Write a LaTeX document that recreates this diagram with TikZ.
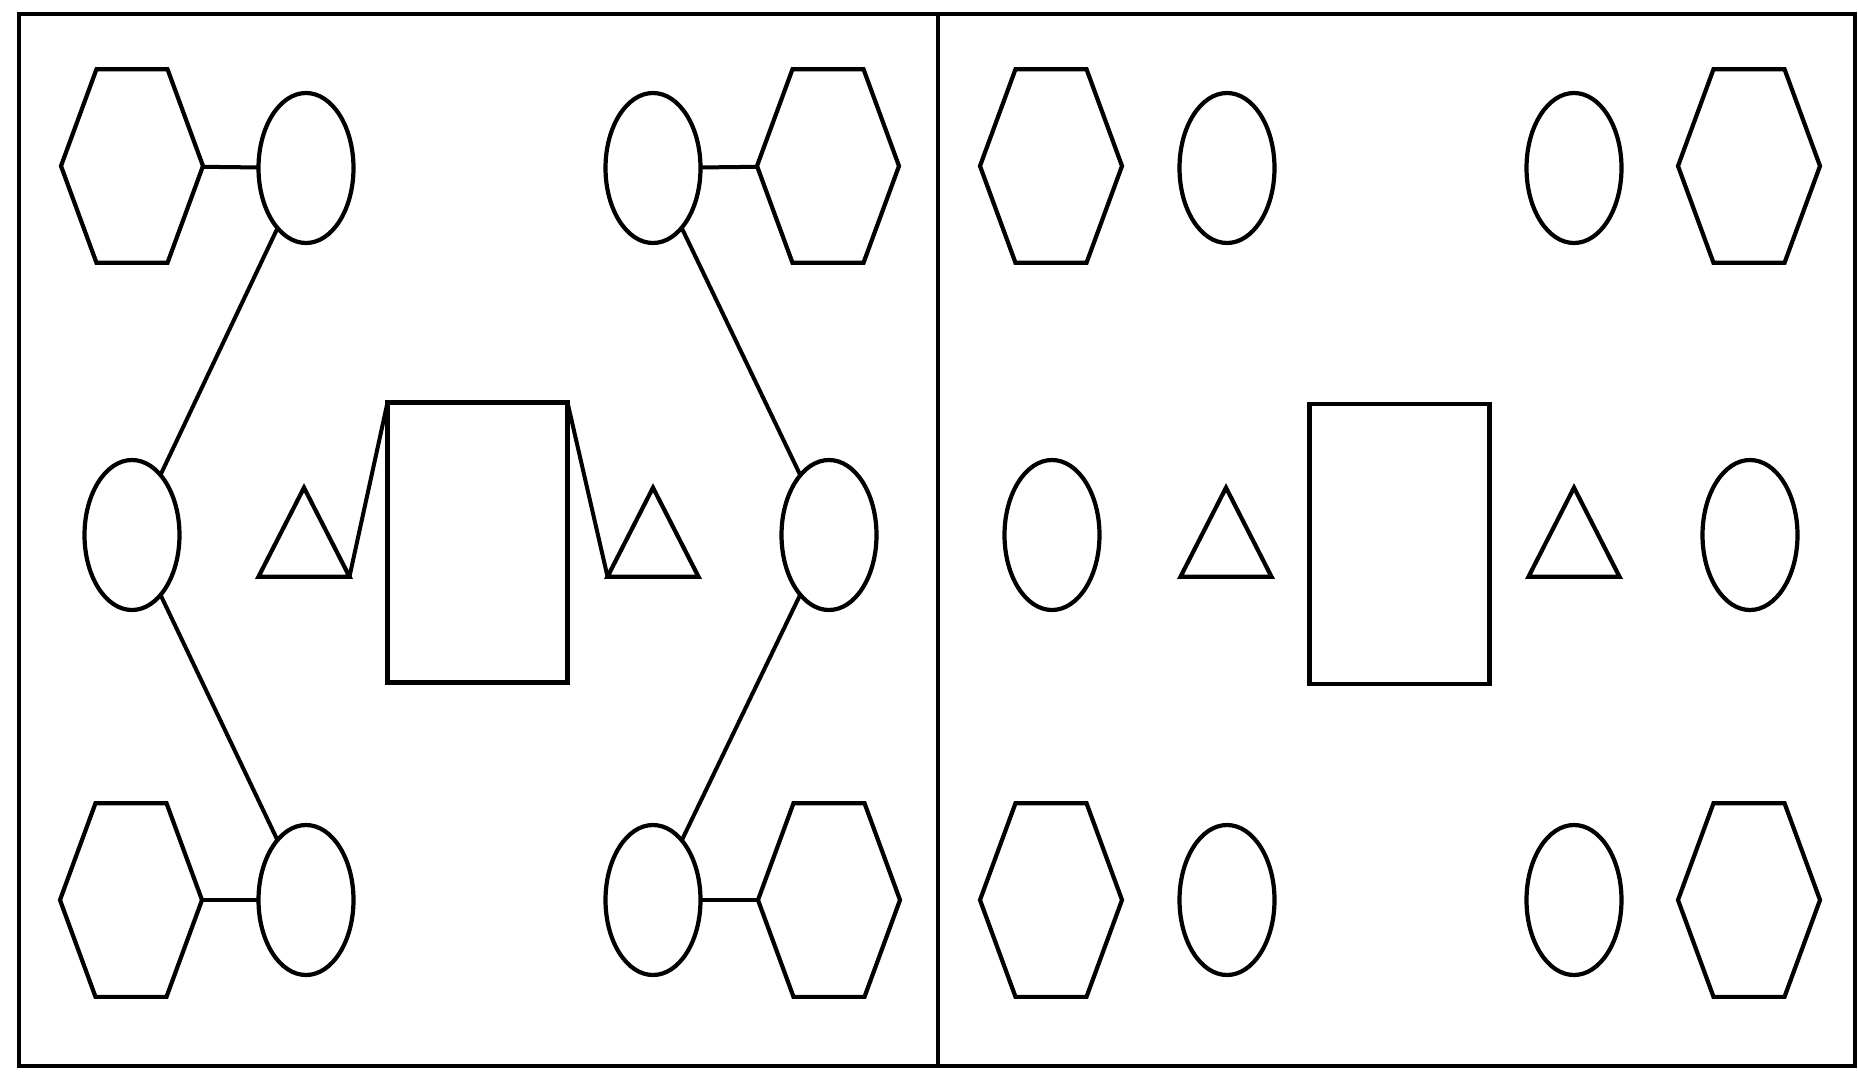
\documentclass[tikz,border=0pt]{standalone}
\usetikzlibrary{shapes.geometric}
\begin{document}
\begin{tikzpicture}[x=1pt,y=-1pt,
  shp/.style={draw, line width=4.2pt, inner sep=0pt, outer sep=0pt},
  hexa/.style={shp, regular polygon, regular polygon sides=6, minimum size=142pt, yscale=1.575},
  oval/.style={shp, ellipse, minimum width=95pt, minimum height=150pt},
  tri/.style={shp, regular polygon, regular polygon sides=3, minimum size=105pt, yscale=1.13},
  box/.style={shp, rectangle, minimum width=180pt, minimum height=280pt},
  link/.style={line width=4pt},
  frame/.style={line width=4.5pt}]
\useasboundingbox (0,0) rectangle (1858,1071);
\fill[white] (0,0) rectangle (1858,1071);
\draw[frame] (19,14) rectangle (1855,1066);
\draw[line width=3.5pt] (938,14) -- (938,1066);

% left panel
\node[hexa] (hTL) at (132,166) {};
\node[oval] (eTL) at (306,168) {};
\node[oval] (eTR) at (653,168) {};
\node[hexa] (hTR) at (828,166) {};
\node[oval] (eML) at (132,535) {};
\node[tri] (tL) at (304,547) {};
\node[box] (bx) at (477.5,542.5) {};
\node[tri] (tR) at (653,547) {};
\node[oval] (eMR) at (829,535) {};
\node[hexa] (hBL) at (131,900) {};
\node[oval] (eBL) at (306,900) {};
\node[oval] (eBR) at (653,900) {};
\node[hexa] (hBR) at (829,900) {};

\draw[link] (hTL) -- (eTL);
\draw[link] (eTR) -- (hTR);
\draw[link] (eTL) -- (eML);
\draw[link] (eML) -- (eBL);
\draw[link] (eBL) -- (hBL);
\draw[link] (eTR) -- (eMR);
\draw[link] (eMR) -- (eBR);
\draw[link] (eBR) -- (hBR);
\draw[link] (tL.corner 3) -- (bx.north west);
\draw[link] (bx.north east) -- (tR.corner 2);

% right panel
\node[hexa] (rhTL) at (1051,166) {};
\node[oval] (reTL) at (1227,168) {};
\node[oval] (reTR) at (1574,168) {};
\node[hexa] (rhTR) at (1749,166) {};
\node[oval] (reML) at (1052,535) {};
\node[tri] (rtL) at (1226,547) {};
\node[box] (rbx) at (1399.5,544) {};
\node[tri] (rtR) at (1574,547) {};
\node[oval] (reMR) at (1750,535) {};
\node[hexa] (rhBL) at (1051,900) {};
\node[oval] (reBL) at (1227,900) {};
\node[oval] (reBR) at (1574,900) {};
\node[hexa] (rhBR) at (1749,900) {};
\end{tikzpicture}
\end{document}
